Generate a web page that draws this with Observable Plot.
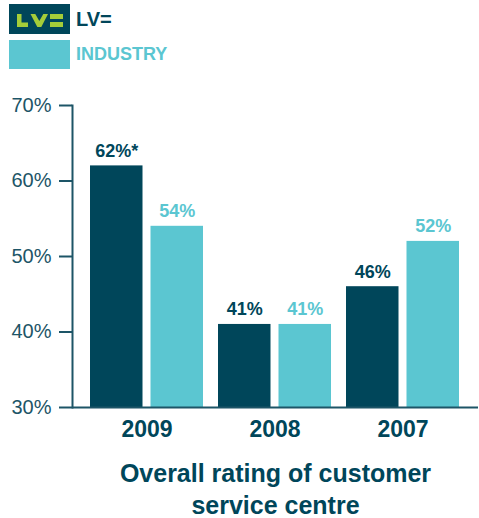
<!DOCTYPE html>
<html><head><meta charset="utf-8">
<script src="https://cdn.jsdelivr.net/npm/d3@7"></script>
<script src="https://cdn.jsdelivr.net/npm/@observablehq/plot@0.6"></script>
<style>
body{margin:0;background:#fff;font-family:"Liberation Sans",Arial,sans-serif;}
#wrap{position:relative;width:479px;height:518px;overflow:hidden;}
#legend{position:relative;height:75px;}
.sw{position:absolute;left:9px;width:61px;}
.lt{position:absolute;left:76px;font-weight:bold;}
#title{position:absolute;left:72px;width:407px;top:457px;text-align:center;font-weight:bold;font-size:25px;line-height:32px;color:#00465a;}
#chart{position:absolute;left:0;top:75px;}
</style></head>
<body><div id="wrap">
<div id="legend">
  <svg class="sw" style="top:4px;height:30px;" width="61" height="30" viewBox="0 0 61 30">
    <rect width="61" height="30" fill="#00465a"/>
    <g fill="#a5cd39">
      <rect x="8" y="10" width="4.5" height="13"/>
      <rect x="8" y="18.5" width="11" height="4.5"/>
      <polygon points="21.5,10 26.3,10 30.3,17 34.3,10 39,10 32.3,23 28.3,23"/>
      <rect x="41" y="10" width="13" height="5"/>
      <rect x="41" y="18" width="13" height="5"/>
    </g>
  </svg>
  <div class="lt" style="top:8px;font-size:20px;color:#00465a;">LV=</div>
  <div class="sw" style="top:40px;height:29px;background:#5bc6d1;"></div>
  <div class="lt" style="top:44px;font-size:18px;color:#5bc6d1;">INDUSTRY</div>
</div>
<div id="chart"></div>
<div id="title">Overall rating of customer<br>service centre</div>
</div>
<script>
const years = ["2009", "2008", "2007"];
const lvValues = [62, 41, 46];
const industryValues = [54, 41, 52];
const lvLabels = ["62%*", "41%", "46%"];
const industryLabels = ["54%", "41%", "52%"];
const yTicks = [30, 40, 50, 60, 70];
const seriesNames = ["LV=", "INDUSTRY"];

const dark = "#00465a", light = "#5bc6d1", axisColor = "#1d5567";
const rows = years.map((y, i) => ({year: y, lv: lvValues[i], ind: industryValues[i], lvL: lvLabels[i], indL: industryLabels[i]}));

const half = 60.5, off = 30.25;
const chart = Plot.plot({
  width: 479, height: 375,
  marginLeft: 72, marginRight: 1, marginTop: 30, marginBottom: 43,
  style: {fontFamily: '"Liberation Sans", Arial, sans-serif', color: dark, background: "transparent"},
  x: {domain: years, paddingInner: 0.116, paddingOuter: 0.132},
  y: {domain: [30, 70]},
  marks: [
    Plot.barY(rows, {x: "year", y1: 30, y2: "lv", fill: dark, insetRight: half}),
    Plot.barY(rows, {x: "year", y1: 30, y2: "ind", fill: light, insetLeft: half}),
    Plot.text(rows, {x: "year", y: "lv", text: "lvL", dx: -off, dy: -9, fill: dark, fontWeight: "bold", fontSize: 18, lineAnchor: "bottom"}),
    Plot.text(rows, {x: "year", y: "ind", text: "indL", dx: off, dy: -9, fill: light, fontWeight: "bold", fontSize: 18, lineAnchor: "bottom"}),
    Plot.axisY({ticks: yTicks, tickFormat: d => d + "%", tickSize: 13, tickPadding: 8, fontSize: 20, color: axisColor, label: null, strokeWidth: 2}),
    Plot.frame({anchor: "left", stroke: axisColor, strokeWidth: 2}),
    Plot.axisX({tickSize: 0, tickPadding: 13, fontSize: 23, fontWeight: "bold", label: null}),
    Plot.ruleY([30], {stroke: axisColor, strokeWidth: 2})
  ]
});
document.getElementById("chart").append(chart);
</script>
</body></html>
